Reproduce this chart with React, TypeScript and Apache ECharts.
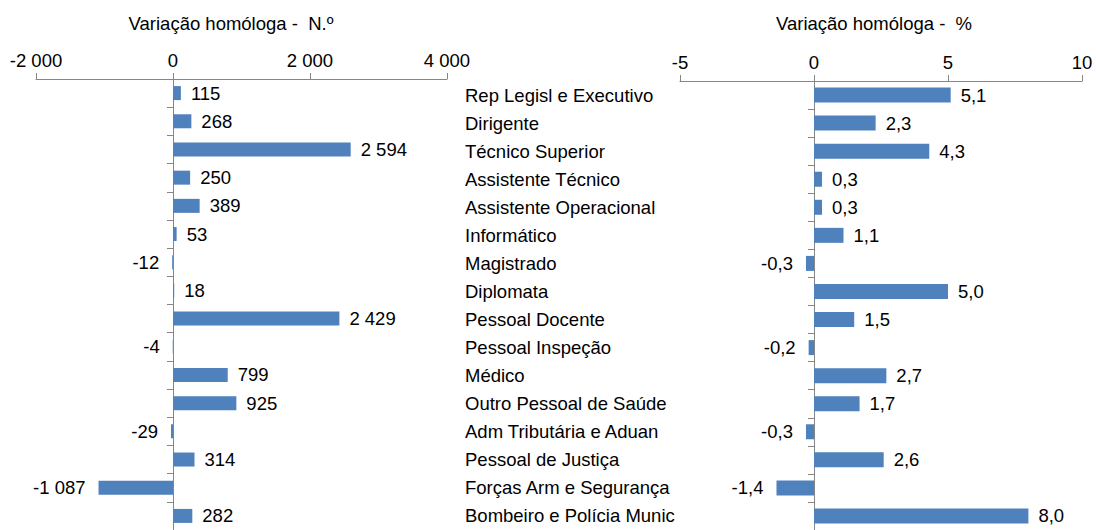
import React, { useEffect, useRef } from "react";
import * as echarts from "echarts";

const categories = [
  "Rep Legisl e Executivo",
  "Dirigente",
  "Técnico Superior",
  "Assistente Técnico",
  "Assistente Operacional",
  "Informático",
  "Magistrado",
  "Diplomata",
  "Pessoal Docente",
  "Pessoal Inspeção",
  "Médico",
  "Outro Pessoal de Saúde",
  "Adm Tributária e Aduan",
  "Pessoal de Justiça",
  "Forças Arm e Segurança",
  "Bombeiro e Polícia Munic",
];

const changeNumber = [115, 268, 2594, 250, 389, 53, -12, 18, 2429, -4, 799, 925, -29, 314, -1087, 282];
const changePercent = [5.1, 2.3, 4.3, 0.3, 0.3, 1.1, -0.3, 5.0, 1.5, -0.2, 2.7, 1.7, -0.3, 2.6, -1.4, 8.0];

const leftTitle = "Variação homóloga -  N.º";
const rightTitle = "Variação homóloga -  %";

const FONT = "'Liberation Sans', Arial, sans-serif";
const AXIS_COLOR = "#868686";
const BAR_COLOR = "#4F81BD";
const FS = 18.5;

function fmtInt(n: number): string {
  const s = Math.abs(n).toString().replace(/\B(?=(\d{3})+(?!\d))/g, " ");
  return (n < 0 ? "-" : "") + s;
}
function fmtPct(n: number): string {
  return n.toFixed(1).replace(".", ",");
}

export default function App() {
  const ref = useRef<HTMLDivElement>(null);
  useEffect(() => {
    if (!ref.current) return;
    const chart = echarts.init(ref.current, undefined, { renderer: "svg" });
    const axisCommon = {
      axisLine: { show: true, lineStyle: { color: AXIS_COLOR, width: 1 } },
      axisTick: { show: true, inside: false, length: 6, lineStyle: { color: AXIS_COLOR } },
      splitLine: { show: false },
    };
    const textStyle = { fontFamily: FONT, fontSize: FS, color: "#000" };
    const mkData = (vals: number[]) =>
      vals.map((v) => ({
        value: v,
        label: { position: v < 0 ? "left" : "right", distance: v < 0 ? 13 : 10 },
      }));
    chart.setOption({
      animation: false,
      backgroundColor: "#fff",
      textStyle: { fontFamily: FONT },
      title: [
        {
          text: leftTitle,
          left: 231,
          top: 14,
          padding: 0,
          textAlign: "center",
          textStyle: { ...textStyle, fontWeight: "normal" },
        },
        {
          text: rightTitle,
          left: 874,
          top: 14,
          padding: 0,
          textAlign: "center",
          textStyle: { ...textStyle, fontWeight: "normal" },
        },
      ],
      grid: [
        { left: 36, top: 79, width: 411, height: 451, containLabel: false },
        { left: 680, top: 81, width: 402, height: 451, containLabel: false },
      ],
      xAxis: [
        {
          type: "value",
          gridIndex: 0,
          position: "top",
          min: -2000,
          max: 4000,
          interval: 2000,
          ...axisCommon,
          axisLine: { ...axisCommon.axisLine, onZero: false },
          axisLabel: { ...textStyle, margin: 9, formatter: (v: number) => fmtInt(v) },
        },
        {
          type: "value",
          gridIndex: 1,
          position: "top",
          min: -5,
          max: 10,
          interval: 5,
          ...axisCommon,
          axisLine: { ...axisCommon.axisLine, onZero: false },
          axisLabel: { ...textStyle, margin: 9, formatter: (v: number) => String(v) },
        },
      ],
      yAxis: [
        {
          type: "category",
          gridIndex: 0,
          position: "left",
          inverse: true,
          data: categories,
          ...axisCommon,
          axisLine: { ...axisCommon.axisLine, onZero: true },
          axisLabel: { show: false },
        },
        {
          type: "category",
          gridIndex: 1,
          position: "left",
          inverse: true,
          data: categories,
          ...axisCommon,
          axisLine: { ...axisCommon.axisLine, onZero: true },
          axisLabel: { show: false },
        },
        {
          type: "category",
          gridIndex: 1,
          position: "left",
          inverse: true,
          data: categories,
          axisLine: { show: false, onZero: false },
          axisTick: { show: false },
          splitLine: { show: false },
          axisLabel: { ...textStyle, align: "left", margin: 215, verticalAlign: "middle" },
        },
      ],
      series: [
        {
          type: "bar",
          xAxisIndex: 0,
          yAxisIndex: 0,
          barWidth: 14,
          data: mkData(changeNumber),
          itemStyle: { color: BAR_COLOR },
          label: { show: true, ...textStyle, formatter: (p: any) => fmtInt(p.value) },
        },
        {
          type: "bar",
          xAxisIndex: 1,
          yAxisIndex: 1,
          barWidth: 15,
          data: mkData(changePercent),
          itemStyle: { color: BAR_COLOR },
          label: { show: true, ...textStyle, formatter: (p: any) => fmtPct(p.value) },
        },
      ],
    });
    return () => chart.dispose();
  }, []);
  return (
    <div
      ref={ref}
      style={{ position: "fixed", left: 0, top: 0, width: 1096, height: 530, background: "#fff" }}
    />
  );
}
